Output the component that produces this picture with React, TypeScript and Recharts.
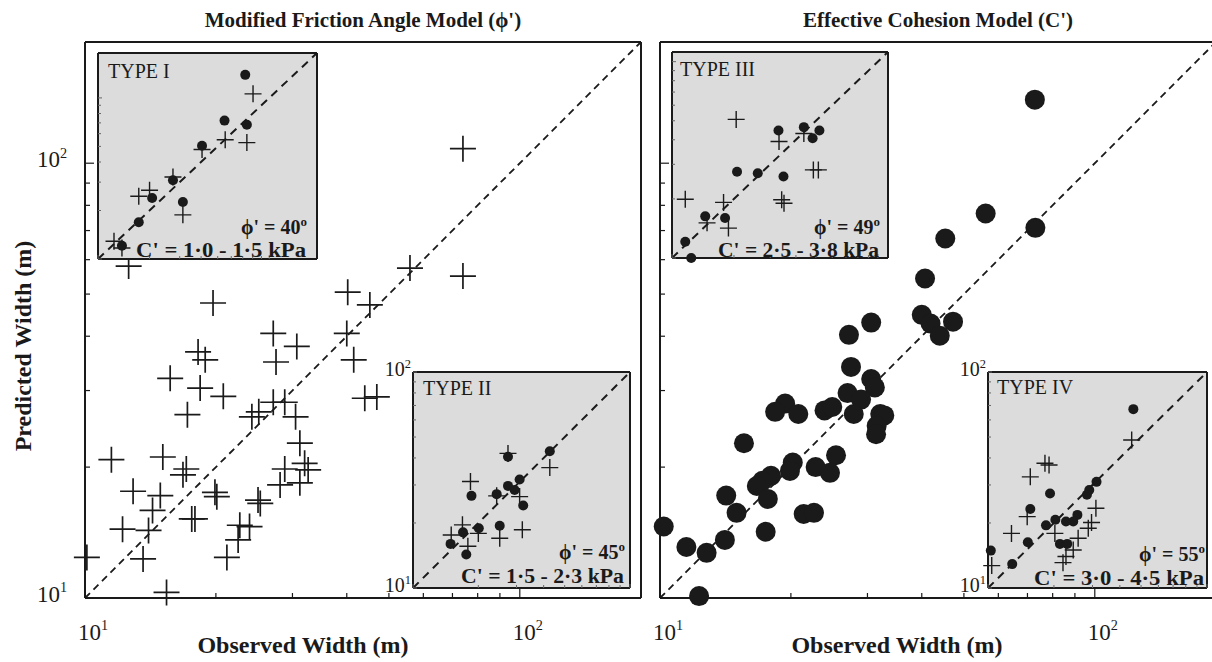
import React from 'react';
import { ScatterChart, Scatter, XAxis, YAxis, ReferenceLine, CartesianGrid } from 'recharts';

const FONT = '"Liberation Serif", "Times New Roman", serif';
const INK = '#1a1a1a';
const INSET_BG = '#dcdcdc';

const LOG_TICKS = [10, 20, 30, 40, 50, 60, 70, 80, 90, 100];
const DECADE_EXP: Record<number, string> = { 10: '1', 100: '2' };
const MAIN_MAX = 190;

// Modified friction angle model (phi'), all sites
const phiObserved = [19.7, 27.1, 30.7, 40.2, 45.2, 40.0, 41.5, 18.2, 18.9, 15.7, 18.4, 20.8, 27.5, 17.2, 24.2, 25.1, 27.1, 28.8, 30.5, 44.0, 46.9, 11.5, 15.1, 17.1, 16.8, 31.2, 32.0, 32.6, 28.8, 28.1, 31.2, 12.9, 14.9, 14.3, 19.9, 20.1, 25.0, 25.3, 12.2, 14.0, 17.6, 17.9, 22.7, 23.9, 22.5, 10.1, 13.6, 21.2, 15.4, 74.0, 55.9, 74.0, 12.6];
const phiPredicted = [47.7, 40.6, 37.9, 50.5, 47.2, 40.6, 35.3, 36.8, 35.3, 32.0, 30.4, 29.1, 34.9, 26.4, 26.1, 26.8, 28.2, 28.2, 26.1, 28.8, 29.0, 20.8, 21.1, 19.8, 19.2, 22.7, 20.4, 19.7, 19.8, 18.2, 18.4, 17.6, 17.2, 15.9, 17.5, 17.1, 16.8, 16.5, 14.4, 14.3, 15.2, 15.2, 14.7, 14.6, 13.6, 12.4, 12.3, 12.4, 10.3, 108, 57.4, 55.0, 58.0];

// Effective cohesion model (C'), all sites
const cohObserved = [72.8, 56.1, 73.0, 45.3, 40.7, 40.0, 41.9, 44.0, 47.2, 30.6, 27.2, 27.5, 30.6, 31.2, 27.0, 29.0, 27.9, 19.4, 18.4, 20.8, 23.9, 24.9, 32.1, 32.8, 31.5, 31.4, 15.6, 20.2, 25.4, 22.8, 24.6, 18.0, 17.2, 16.7, 17.7, 14.2, 15.0, 21.4, 22.6, 17.5, 14.1, 10.2, 11.5, 12.8, 12.3, 19.9];
const cohPredicted = [140, 76.6, 71.0, 67.1, 54.3, 44.8, 42.8, 40.1, 43.2, 43.0, 40.3, 34.0, 31.9, 30.5, 29.6, 28.6, 26.5, 28.0, 26.8, 26.5, 27.0, 27.5, 26.5, 26.3, 24.9, 23.8, 22.7, 20.5, 21.3, 20.0, 19.4, 19.1, 18.6, 18.1, 16.9, 17.2, 15.7, 15.6, 15.7, 14.2, 13.6, 14.6, 13.1, 12.7, 10.1, 19.6];

// Type I (phi' = 40)
const type1DotObs = [72.4, 54.8, 74.0, 40.5, 27.4, 20.7, 31.3, 17.3, 13.8];
const type1DotPred = [139, 72.3, 68.1, 50.5, 30.8, 23.9, 22.6, 16.9, 12.1];
const type1CrossObs = [80.4, 55.3, 74.0, 40.5, 27.4, 20.0, 17.3, 31.3, 12.4, 13.8];
const type1CrossPred = [106, 55.0, 52.8, 47.8, 32.3, 26.7, 24.5, 18.8, 12.9, 11.7];

// Type II (phi' = 45)
const type2DotObs = [42.7, 27.4, 31.0, 27.4, 29.4, 24.3, 18.6, 32.2, 25.1, 20.1, 17.0, 14.9, 17.6];
const type2DotPred = [43.0, 40.5, 31.8, 29.7, 28.4, 27.2, 26.7, 24.1, 19.4, 18.9, 18.1, 16.0, 14.3];
const type2CrossObs = [27.4, 42.7, 18.4, 24.3, 31.0, 16.9, 20.0, 15.0, 25.1, 31.9, 17.9];
const type2CrossPred = [42.0, 36.1, 31.1, 26.7, 26.5, 19.6, 17.9, 17.6, 17.0, 18.6, 15.6];

// Type III (phi' = 49)
const type3DotObs = [32.9, 43.7, 52.0, 48.2, 20.7, 26.1, 34.8, 14.5, 18.1, 11.6, 12.4];
const type3DotPred = [44.6, 46.4, 44.6, 40.7, 27.5, 27.0, 26.0, 16.3, 16.0, 12.1, 10.0];
const type3CrossObs = [20.5, 33.1, 43.7, 48.6, 51.4, 34.1, 35.0, 11.6, 17.8, 14.8, 18.8];
const type3CrossPred = [50.8, 39.2, 43.1, 28.1, 28.1, 19.8, 19.0, 19.9, 19.2, 15.1, 14.2];

// Type IV (phi' = 55)
const type4DotObs = [46.1, 31.3, 29.0, 28.3, 19.2, 15.6, 25.6, 24.5, 22.7, 20.3, 18.4, 15.2, 21.3, 23.0, 12.9, 10.3];
const type4DotPred = [67.3, 31.0, 28.4, 27.0, 27.4, 23.2, 21.8, 20.3, 20.3, 20.7, 19.5, 16.3, 16.0, 16.0, 12.9, 14.9];
const type4CrossObs = [45.3, 18.2, 19.0, 15.6, 15.1, 31.1, 29.7, 28.7, 12.8, 20.2, 25.8, 24.5, 22.7, 22.0, 10.4];
const type4CrossPred = [48.4, 37.8, 37.1, 32.7, 21.4, 23.4, 20.1, 18.9, 17.9, 17.9, 17.0, 15.0, 14.0, 13.1, 12.7];

type Pt = { x: number; y: number };
const toPoints = (xs: number[], ys: number[]): Pt[] => xs.map((x, i) => ({ x, y: ys[i] }));

const crossShape = (half: number, width: number) => (p: any) => (
  <path
    d={`M${p.cx - half},${p.cy}H${p.cx + half}M${p.cx},${p.cy - half}V${p.cy + half}`}
    stroke={INK}
    strokeWidth={width}
    fill="none"
  />
);
const dotShape = (r: number) => (p: any) => <circle cx={p.cx} cy={p.cy} r={r} fill={INK} />;

// inward tick marks, optional 10^n labels
function AxisTick(props: any) {
  const { x, y, payload, edge, major, minor, label, fs = 22, dx = 0, dy = 0, color = INK, lw = 1.2 } = props;
  const exp = DECADE_EXP[payload.value];
  const len = exp ? major : minor;
  let x2 = x;
  let y2 = y;
  if (edge === 'bottom') y2 = y - len;
  if (edge === 'top') y2 = y + len;
  if (edge === 'left') x2 = x + len;
  if (edge === 'right') x2 = x - len;
  return (
    <g>
      {len > 0 && <line x1={x} y1={y} x2={x2} y2={y2} stroke={color} strokeWidth={lw} />}
      {label && exp && (
        <text x={x + dx} y={y + dy} textAnchor={edge === 'left' ? 'end' : 'start'} fontFamily={FONT} fontSize={fs} fill={INK}>
          10
          <tspan dy={-fs * 0.42} fontSize={fs * 0.62}>
            {exp}
          </tspan>
        </text>
      )}
    </g>
  );
}

const logAxis = { type: 'number' as const, scale: 'log' as const, ticks: LOG_TICKS, interval: 0, tickSize: 0, tickMargin: 0, tickLine: false };

function MainPanel(props: { left: number; width: number; yWidth: number; rightGap: number; points: Pt[]; shape: any; yLabels: boolean }) {
  const { left, width, yWidth, rightGap, points, shape, yLabels } = props;
  const line = { stroke: INK, strokeWidth: 2 };
  const domain: [number, number] = [10, MAIN_MAX];
  return (
    <div style={{ position: 'absolute', left, top: 0 }}>
      <ScatterChart width={width} height={662} margin={{ top: 40, right: rightGap, bottom: 0, left: 0 }}>
        <XAxis {...logAxis} dataKey="x" domain={domain} height={64} axisLine={line}
          tick={(p: any) => <AxisTick {...p} edge="bottom" major={9} minor={5} label fs={23} dx={-7} dy={42} />} />
        <XAxis {...logAxis} xAxisId="top" orientation="top" dataKey="x" domain={domain} height={2} axisLine={line}
          tick={(p: any) => <AxisTick {...p} edge="top" major={9} minor={5} />} />
        <YAxis {...logAxis} dataKey="y" domain={domain} width={yWidth} axisLine={line}
          tick={(p: any) => <AxisTick {...p} edge="left" major={9} minor={5} label={yLabels} fs={23} dx={-18} dy={4} />} />
        <YAxis {...logAxis} yAxisId="right" orientation="right" dataKey="y" domain={domain} width={2} axisLine={line}
          tick={(p: any) => <AxisTick {...p} edge="right" major={9} minor={5} />} />
        <ReferenceLine segment={[{ x: 10, y: 10 }, { x: MAIN_MAX, y: MAIN_MAX }]} stroke={INK} strokeWidth={1.8} strokeDasharray="7 5" ifOverflow="visible" />
        <Scatter data={points} shape={shape} isAnimationActive={false} />
      </ScatterChart>
    </div>
  );
}

type Box = { x: number; y: number; w: number; h: number };

function Inset(props: { box: Box; max: number; side: 'left' | 'right'; dots: Pt[]; crosses: Pt[] }) {
  const { box, max, side, dots, crosses } = props;
  const padX = 45;
  const padY = 15;
  const line = { stroke: INK, strokeWidth: 2 };
  const domain: [number, number] = [10, max];
  const mark = (edge: string, withLabel: boolean) => (p: any) => (
    <AxisTick {...p} edge={edge} major={4} minor={3} color="#666" lw={1} label={withLabel} fs={20}
      dx={edge === 'left' ? -2 : 3} dy={edge === 'left' ? 4 : 8} />
  );
  return (
    <div style={{ position: 'absolute', left: box.x - padX, top: box.y - padY }}>
      <ScatterChart width={box.w + 2 * padX} height={box.h + 2 * padY}
        margin={{ top: padY - 1, bottom: padY - 1, left: padX - 1, right: padX - 1 }}>
        <CartesianGrid fill={INSET_BG} fillOpacity={1} stroke="none" horizontal={false} vertical={false} />
        <XAxis {...logAxis} dataKey="x" domain={domain} height={1} axisLine={line} tick={mark('bottom', false)} />
        <XAxis {...logAxis} xAxisId="top" orientation="top" dataKey="x" domain={domain} height={1} axisLine={line} tick={mark('top', false)} />
        <YAxis {...logAxis} dataKey="y" domain={domain} width={1} axisLine={line} tick={mark('left', side === 'left')} />
        <YAxis {...logAxis} yAxisId="right" orientation="right" dataKey="y" domain={domain} width={1} axisLine={line} tick={mark('right', side === 'right')} />
        <ReferenceLine segment={[{ x: 10, y: 10 }, { x: max, y: max }]} stroke={INK} strokeWidth={2} strokeDasharray="8 6" ifOverflow="visible" />
        <Scatter data={crosses} shape={crossShape(8.5, 1.4)} isAnimationActive={false} />
        <Scatter data={dots} shape={dotShape(5)} isAnimationActive={false} />
      </ScatterChart>
    </div>
  );
}

const notes = [
  { type: 'TYPE I', tx: 108, ty: 78, phi: '40', px: 307, py: 234, coh: '1·0 - 1·5', cy: 257, cw: 170 },
  { type: 'TYPE II', tx: 423, ty: 395, phi: '45', px: 625, py: 559, coh: '1·5 - 2·3', cy: 583, cw: 163 },
  { type: 'TYPE III', tx: 680, ty: 76, phi: '49', px: 880, py: 234, coh: '2·5 - 3·8', cy: 257, cw: 161 },
  { type: 'TYPE IV', tx: 997, ty: 394, phi: '55', px: 1205, py: 561, coh: '3·0 - 4·5', cy: 585, cw: 170 },
];

export default function App() {
  return (
    <div style={{ position: 'absolute', left: 0, top: 0, width: 1212, height: 662, overflow: 'hidden', background: '#fff' }}>
      <MainPanel left={0} width={660} yWidth={85} rightGap={17} points={toPoints(phiObserved, phiPredicted)} shape={crossShape(13, 1.7)} yLabels />
      <MainPanel left={620} width={600} yWidth={40} rightGap={2} points={toPoints(cohObserved, cohPredicted)} shape={dotShape(10)} yLabels={false} />

      <Inset box={{ x: 98, y: 53, w: 219, h: 206 }} max={190} side="right" dots={toPoints(type1DotObs, type1DotPred)} crosses={toPoints(type1CrossObs, type1CrossPred)} />
      <Inset box={{ x: 413, y: 372, w: 217, h: 216 }} max={100} side="left" dots={toPoints(type2DotObs, type2DotPred)} crosses={toPoints(type2CrossObs, type2CrossPred)} />
      <Inset box={{ x: 672, y: 52, w: 216, h: 206 }} max={112} side="right" dots={toPoints(type3DotObs, type3DotPred)} crosses={toPoints(type3CrossObs, type3CrossPred)} />
      <Inset box={{ x: 988, y: 372, w: 219, h: 216 }} max={100} side="left" dots={toPoints(type4DotObs, type4DotPred)} crosses={toPoints(type4CrossObs, type4CrossPred)} />

      <svg width={1212} height={662} style={{ position: 'absolute', left: 0, top: 0, pointerEvents: 'none' }} fontFamily={FONT} fill={INK}>
        <text x={363} y={27} textAnchor="middle" fontWeight="bold" fontSize={21}>Modified Friction Angle Model (ϕ')</text>
        <text x={938} y={27} textAnchor="middle" fontWeight="bold" fontSize={21}>Effective Cohesion Model (C')</text>
        <text x={303} y={653} textAnchor="middle" fontWeight="bold" fontSize={24}>Observed Width (m)</text>
        <text x={897} y={653} textAnchor="middle" fontWeight="bold" fontSize={24}>Observed Width (m)</text>
        <text transform="translate(31,346) rotate(-90)" textAnchor="middle" fontWeight="bold" fontSize={24}>Predicted Width (m)</text>
        {notes.map((n) => (
          <g key={n.type}>
            <text x={n.tx} y={n.ty} fontSize={20}>{n.type}</text>
            <text x={n.px} y={n.py} textAnchor="end" fontWeight="bold" fontSize={20}>
              ϕ' = {n.phi}
              <tspan dy={-8} fontSize={13}>o</tspan>
            </text>
            <text x={n.px - 1 - n.cw} y={n.cy} textLength={n.cw} lengthAdjust="spacingAndGlyphs" fontWeight="bold" fontSize={20}>{`C' = ${n.coh} kPa`}</text>
          </g>
        ))}
      </svg>
    </div>
  );
}
